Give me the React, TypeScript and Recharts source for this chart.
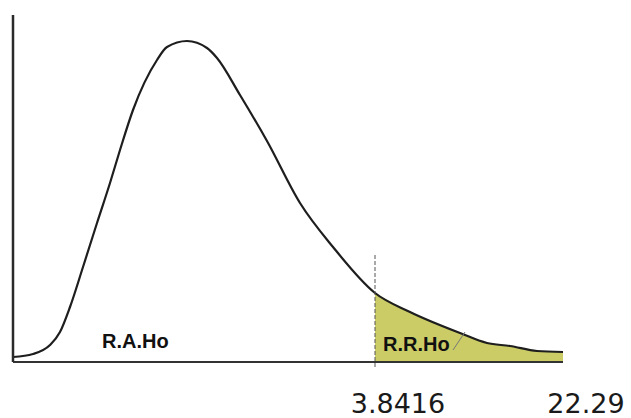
import React from 'react'
import { ComposedChart, Area, Line, XAxis, YAxis, ReferenceLine, ReferenceDot } from 'recharts'

// curve (arbitrary units)
const xs = [0, 20, 37, 47, 57, 70, 84, 97, 107, 120, 144, 154, 174, 194, 204, 227, 254, 287, 320, 362, 397, 447, 474, 497, 524, 550]
const density = [5, 8, 17, 30, 55, 95, 139, 179, 212, 252, 302, 315, 321, 314, 304, 267, 221, 159, 115, 69, 50, 29, 19, 16, 11, 10]

const critical = 362
const tickValues = [362, 550]
const tickLabels = ['3.8416', '22.29']

const data = xs.map((x, i) => ({
  x,
  y: density[i],
  tail: x >= critical ? density[i] : null,
}))

function TickLabel({ x, y, payload }: any) {
  const idx = tickValues.indexOf(payload.value)
  return (
    <text x={x + 23} y={y + 43} textAnchor="middle" fontSize={27} fill="#1a1a1a" fontFamily="'DejaVu Sans', Verdana, sans-serif">
      {tickLabels[idx]}
    </text>
  )
}

const textLabel = (value: string) => (props: any) => {
  const vb = props.viewBox
  return (
    <text x={vb.x} y={vb.y} fontSize={20} fontWeight="bold" fill="#111" fontFamily="'Liberation Sans', Arial, sans-serif">
      {value}
    </text>
  )
}

export default function App() {
  return (
    <div style={{ position: 'absolute', left: 0, top: 0, background: '#fff' }}>
      <ComposedChart width={631} height={418} data={data} margin={{ top: 15, right: 68, left: 12, bottom: 0 }}>
        <XAxis
          dataKey="x" type="number" domain={[0, 550]} ticks={tickValues}
          axisLine={{ stroke: '#333', strokeWidth: 2 }} tickLine={false}
          height={56} tick={<TickLabel />} interval={0}
        />
        <YAxis
          type="number" domain={[0, 347]} width={1} tick={false} tickLine={false}
          axisLine={{ stroke: '#2a2a2a', strokeWidth: 2.5 }}
        />
        <Area dataKey="tail" type="monotone" fill="#cccc66" fillOpacity={1} stroke="none" isAnimationActive={false} connectNulls={false} />
        <Line dataKey="y" type="monotone" stroke="#1e1e1e" strokeWidth={2.2} dot={false} isAnimationActive={false} />
        <ReferenceLine
          segment={[{ x: critical, y: -5 }, { x: critical, y: 107 }]}
          stroke="#555" strokeDasharray="4 2" strokeWidth={1} ifOverflow="visible"
        />
        <ReferenceLine
          segment={[{ x: 440, y: 12 }, { x: 452, y: 30 }]}
          stroke="#777" strokeWidth={1}
        />
        <ReferenceDot x={89} y={14} r={0} fill="none" stroke="none" label={textLabel('R.A.Ho')} />
        <ReferenceDot x={370} y={11} r={0} fill="none" stroke="none" label={textLabel('R.R.Ho')} />
      </ComposedChart>
    </div>
  )
}
